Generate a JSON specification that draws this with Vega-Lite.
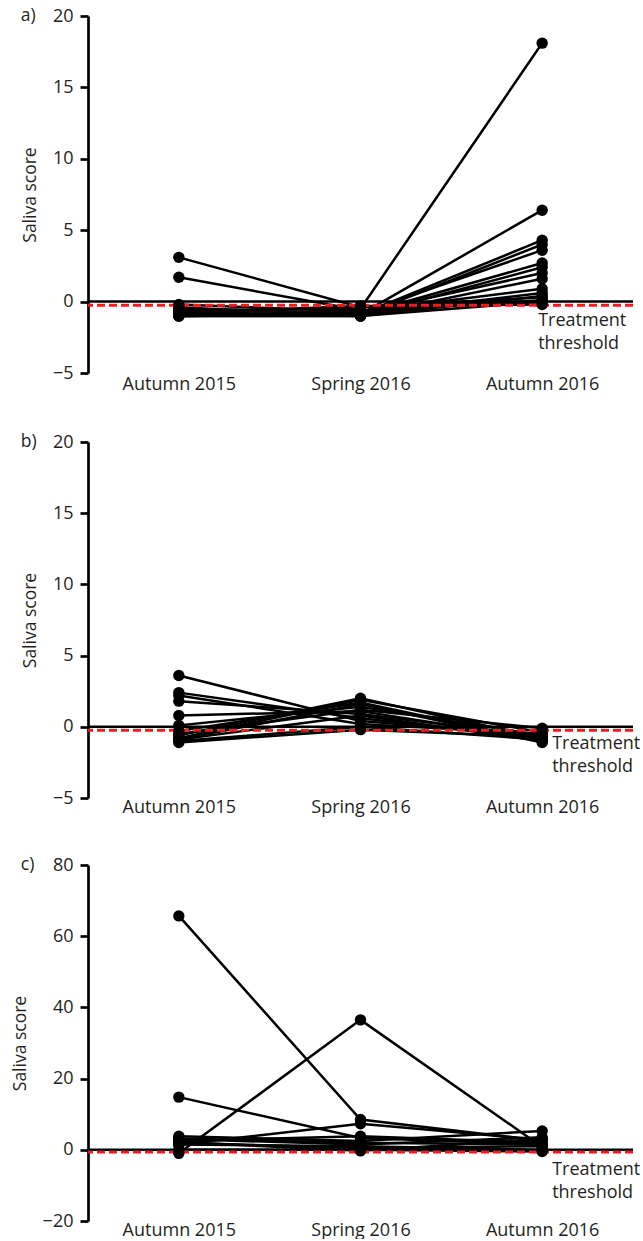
{
  "$schema": "https://vega.github.io/schema/vega-lite/v6.json",
  "background": "white",
  "padding": {"left": 11, "top": 7, "right": 0, "bottom": 0},
  "spacing": 40,
  "config": {
    "font": "Open Sans",
    "view": {"stroke": null},
    "axisY": {
      "domainColor": "black", "domainWidth": 2.7, "tickColor": "black", "tickWidth": 2.7, "tickSize": 8,
      "labelFontSize": 18, "labelColor": "#231f20", "labelPadding": 7, "grid": false,
      "titleFontSize": 17.5, "titleFontWeight": "normal", "titleColor": "#231f20", "titlePadding": 13
    },
    "axisX": {
      "domain": false, "ticks": false, "labelFontSize": 18, "labelColor": "#231f20", "labelPadding": 0, "labelAngle": 0, "title": null
    }
  },
  "datasets": {
    "a": [
      {"subject": 1, "season": "Autumn 2015", "score": -0.6}, {"subject": 1, "season": "Spring 2016", "score": -0.5}, {"subject": 1, "season": "Autumn 2016", "score": 18.1},
      {"subject": 2, "season": "Autumn 2015", "score": 3.1}, {"subject": 2, "season": "Spring 2016", "score": -0.4}, {"subject": 2, "season": "Autumn 2016", "score": 0.3},
      {"subject": 3, "season": "Autumn 2015", "score": 1.7}, {"subject": 3, "season": "Spring 2016", "score": -0.6}, {"subject": 3, "season": "Autumn 2016", "score": 0.1},
      {"subject": 4, "season": "Autumn 2015", "score": -0.9}, {"subject": 4, "season": "Spring 2016", "score": -0.9}, {"subject": 4, "season": "Autumn 2016", "score": 6.4},
      {"subject": 5, "season": "Autumn 2015", "score": -1.0}, {"subject": 5, "season": "Spring 2016", "score": -0.9}, {"subject": 5, "season": "Autumn 2016", "score": 4.3},
      {"subject": 6, "season": "Autumn 2015", "score": -0.8}, {"subject": 6, "season": "Spring 2016", "score": -1.0}, {"subject": 6, "season": "Autumn 2016", "score": 4.0},
      {"subject": 7, "season": "Autumn 2015", "score": -0.9}, {"subject": 7, "season": "Spring 2016", "score": -0.8}, {"subject": 7, "season": "Autumn 2016", "score": 3.6},
      {"subject": 8, "season": "Autumn 2015", "score": -1.0}, {"subject": 8, "season": "Spring 2016", "score": -0.9}, {"subject": 8, "season": "Autumn 2016", "score": 2.7},
      {"subject": 9, "season": "Autumn 2015", "score": -0.7}, {"subject": 9, "season": "Spring 2016", "score": -1.0}, {"subject": 9, "season": "Autumn 2016", "score": 2.4},
      {"subject": 10, "season": "Autumn 2015", "score": -0.5}, {"subject": 10, "season": "Spring 2016", "score": -0.8}, {"subject": 10, "season": "Autumn 2016", "score": 2.0},
      {"subject": 11, "season": "Autumn 2015", "score": -1.0}, {"subject": 11, "season": "Spring 2016", "score": -1.0}, {"subject": 11, "season": "Autumn 2016", "score": 1.6},
      {"subject": 12, "season": "Autumn 2015", "score": -0.2}, {"subject": 12, "season": "Spring 2016", "score": -0.7}, {"subject": 12, "season": "Autumn 2016", "score": 0.9},
      {"subject": 13, "season": "Autumn 2015", "score": -0.9}, {"subject": 13, "season": "Spring 2016", "score": -0.9}, {"subject": 13, "season": "Autumn 2016", "score": 0.6},
      {"subject": 14, "season": "Autumn 2015", "score": -0.4}, {"subject": 14, "season": "Spring 2016", "score": -1.0}, {"subject": 14, "season": "Autumn 2016", "score": 0.0},
      {"subject": 15, "season": "Autumn 2015", "score": -0.8}, {"subject": 15, "season": "Spring 2016", "score": -0.3}, {"subject": 15, "season": "Autumn 2016", "score": -0.2},
      {"subject": 16, "season": "Autumn 2015", "score": -1.0}, {"subject": 16, "season": "Spring 2016", "score": -1.0}, {"subject": 16, "season": "Autumn 2016", "score": 0.4}
    ],
    "b": [
      {"subject": 1, "season": "Autumn 2015", "score": 3.6}, {"subject": 1, "season": "Spring 2016", "score": 0.4}, {"subject": 1, "season": "Autumn 2016", "score": -0.6},
      {"subject": 2, "season": "Autumn 2015", "score": 2.4}, {"subject": 2, "season": "Spring 2016", "score": 0.6}, {"subject": 2, "season": "Autumn 2016", "score": -0.8},
      {"subject": 3, "season": "Autumn 2015", "score": 2.2}, {"subject": 3, "season": "Spring 2016", "score": 0.2}, {"subject": 3, "season": "Autumn 2016", "score": -0.5},
      {"subject": 4, "season": "Autumn 2015", "score": 1.8}, {"subject": 4, "season": "Spring 2016", "score": 0.9}, {"subject": 4, "season": "Autumn 2016", "score": -0.7},
      {"subject": 5, "season": "Autumn 2015", "score": 0.8}, {"subject": 5, "season": "Spring 2016", "score": 1.1}, {"subject": 5, "season": "Autumn 2016", "score": -0.9},
      {"subject": 6, "season": "Autumn 2015", "score": 0.1}, {"subject": 6, "season": "Spring 2016", "score": 1.4}, {"subject": 6, "season": "Autumn 2016", "score": -0.6},
      {"subject": 7, "season": "Autumn 2015", "score": -0.3}, {"subject": 7, "season": "Spring 2016", "score": 1.7}, {"subject": 7, "season": "Autumn 2016", "score": -1.0},
      {"subject": 8, "season": "Autumn 2015", "score": -0.6}, {"subject": 8, "season": "Spring 2016", "score": 2.0}, {"subject": 8, "season": "Autumn 2016", "score": -0.8},
      {"subject": 9, "season": "Autumn 2015", "score": -0.8}, {"subject": 9, "season": "Spring 2016", "score": 1.9}, {"subject": 9, "season": "Autumn 2016", "score": -0.4},
      {"subject": 10, "season": "Autumn 2015", "score": -0.9}, {"subject": 10, "season": "Spring 2016", "score": 1.6}, {"subject": 10, "season": "Autumn 2016", "score": -1.1},
      {"subject": 11, "season": "Autumn 2015", "score": -1.0}, {"subject": 11, "season": "Spring 2016", "score": 0.0}, {"subject": 11, "season": "Autumn 2016", "score": -0.9},
      {"subject": 12, "season": "Autumn 2015", "score": -1.1}, {"subject": 12, "season": "Spring 2016", "score": -0.2}, {"subject": 12, "season": "Autumn 2016", "score": -0.7},
      {"subject": 13, "season": "Autumn 2015", "score": -0.5}, {"subject": 13, "season": "Spring 2016", "score": 1.2}, {"subject": 13, "season": "Autumn 2016", "score": -0.1},
      {"subject": 14, "season": "Autumn 2015", "score": -0.9}, {"subject": 14, "season": "Spring 2016", "score": 0.8}, {"subject": 14, "season": "Autumn 2016", "score": -1.0}
    ],
    "c": [
      {"subject": 1, "season": "Autumn 2015", "score": 65.7}, {"subject": 1, "season": "Spring 2016", "score": 8.5}, {"subject": 1, "season": "Autumn 2016", "score": 2.5},
      {"subject": 2, "season": "Autumn 2015", "score": 14.8}, {"subject": 2, "season": "Spring 2016", "score": 3.3}, {"subject": 2, "season": "Autumn 2016", "score": 1.5},
      {"subject": 3, "season": "Autumn 2015", "score": -1.0}, {"subject": 3, "season": "Spring 2016", "score": 36.5}, {"subject": 3, "season": "Autumn 2016", "score": 0.8},
      {"subject": 4, "season": "Autumn 2015", "score": 1.5}, {"subject": 4, "season": "Spring 2016", "score": 7.3}, {"subject": 4, "season": "Autumn 2016", "score": 2.8},
      {"subject": 5, "season": "Autumn 2015", "score": 3.8}, {"subject": 5, "season": "Spring 2016", "score": 2.5}, {"subject": 5, "season": "Autumn 2016", "score": 5.3},
      {"subject": 6, "season": "Autumn 2015", "score": 3.0}, {"subject": 6, "season": "Spring 2016", "score": 1.5}, {"subject": 6, "season": "Autumn 2016", "score": 3.5},
      {"subject": 7, "season": "Autumn 2015", "score": 2.5}, {"subject": 7, "season": "Spring 2016", "score": 3.8}, {"subject": 7, "season": "Autumn 2016", "score": 2.0},
      {"subject": 8, "season": "Autumn 2015", "score": 2.0}, {"subject": 8, "season": "Spring 2016", "score": 0.5}, {"subject": 8, "season": "Autumn 2016", "score": 1.0},
      {"subject": 9, "season": "Autumn 2015", "score": 1.5}, {"subject": 9, "season": "Spring 2016", "score": 1.0}, {"subject": 9, "season": "Autumn 2016", "score": 0.0},
      {"subject": 10, "season": "Autumn 2015", "score": 0.0}, {"subject": 10, "season": "Spring 2016", "score": 0.0}, {"subject": 10, "season": "Autumn 2016", "score": -0.5},
      {"subject": 11, "season": "Autumn 2015", "score": 3.2}, {"subject": 11, "season": "Spring 2016", "score": 2.0}, {"subject": 11, "season": "Autumn 2016", "score": 1.5},
      {"subject": 12, "season": "Autumn 2015", "score": 2.2}, {"subject": 12, "season": "Spring 2016", "score": -0.3}, {"subject": 12, "season": "Autumn 2016", "score": 3.0}
    ]
  },
  "vconcat": [
    {
      "width": 545, "height": 357,
      "data": {"name": "a"},
      "layer": [
        {"data": {"values": [{}]}, "mark": {"type": "rule", "color": "black", "strokeWidth": 2.5},
         "encoding": {"y": {"datum": 0, "type": "quantitative", "scale": {"domain": [-5, 20], "nice": false}, "axis": {"values": [-5, 0, 5, 10, 15, 20], "title": "Saliva score", "labelExpr": "replace(datum.label, '-', '−')"}}}},
        {"mark": {"type": "line", "color": "black", "strokeWidth": 2.5},
         "encoding": {
           "x": {"field": "season", "type": "ordinal", "scale": {"type": "point", "padding": 0.5, "domain": ["Autumn 2015", "Spring 2016", "Autumn 2016"]}, "axis": {"labelPadding": 2}},
           "y": {"field": "score", "type": "quantitative"},
           "detail": {"field": "subject"}}},
        {"data": {"values": [{}]}, "mark": {"type": "rule", "color": "#ee1c25", "strokeWidth": 3, "strokeDash": [8, 4]},
         "encoding": {"y": {"datum": -0.25, "type": "quantitative"}}},
        {"mark": {"type": "circle", "color": "black", "opacity": 1, "size": 130},
         "encoding": {"x": {"field": "season", "type": "ordinal"}, "y": {"field": "score", "type": "quantitative"}}},
        {"data": {"values": [{}]}, "mark": {"type": "text", "fontSize": 18, "color": "#231f20", "align": "left", "baseline": "top", "dx": -4, "dy": 10, "lineHeight": 23.5},
         "encoding": {"x": {"datum": "Autumn 2016", "type": "ordinal"}, "y": {"datum": 0, "type": "quantitative"}, "text": {"value": ["Treatment", "threshold"]}}},
        {"data": {"values": [{}]}, "mark": {"type": "text", "fontSize": 17.5, "color": "#231f20", "align": "left", "baseline": "middle", "dx": -158},
         "encoding": {"x": {"datum": "Autumn 2015", "type": "ordinal"}, "y": {"datum": 20, "type": "quantitative"}, "text": {"value": "a)"}}}
      ]
    },
    {
      "width": 545, "height": 356,
      "data": {"name": "b"},
      "layer": [
        {"data": {"values": [{}]}, "mark": {"type": "rule", "color": "black", "strokeWidth": 2.5},
         "encoding": {"y": {"datum": 0, "type": "quantitative", "scale": {"domain": [-5, 20], "nice": false}, "axis": {"values": [-5, 0, 5, 10, 15, 20], "title": "Saliva score", "labelExpr": "replace(datum.label, '-', '−')"}}}},
        {"mark": {"type": "line", "color": "black", "strokeWidth": 2.5},
         "encoding": {
           "x": {"field": "season", "type": "ordinal", "scale": {"type": "point", "padding": 0.5, "domain": ["Autumn 2015", "Spring 2016", "Autumn 2016"]}},
           "y": {"field": "score", "type": "quantitative"},
           "detail": {"field": "subject"}}},
        {"data": {"values": [{}]}, "mark": {"type": "rule", "color": "#ee1c25", "strokeWidth": 3, "strokeDash": [8, 4]},
         "encoding": {"y": {"datum": -0.25, "type": "quantitative"}}},
        {"mark": {"type": "circle", "color": "black", "opacity": 1, "size": 130},
         "encoding": {"x": {"field": "season", "type": "ordinal"}, "y": {"field": "score", "type": "quantitative"}}},
        {"data": {"values": [{}]}, "mark": {"type": "text", "fontSize": 18, "color": "#231f20", "align": "left", "baseline": "top", "dx": 10, "dy": 8, "lineHeight": 23.5},
         "encoding": {"x": {"datum": "Autumn 2016", "type": "ordinal"}, "y": {"datum": 0, "type": "quantitative"}, "text": {"value": ["Treatment", "threshold"]}}},
        {"data": {"values": [{}]}, "mark": {"type": "text", "fontSize": 17.5, "color": "#231f20", "align": "left", "baseline": "middle", "dx": -158},
         "encoding": {"x": {"datum": "Autumn 2015", "type": "ordinal"}, "y": {"datum": 20, "type": "quantitative"}, "text": {"value": "b)"}}}
      ]
    },
    {
      "width": 545, "height": 356,
      "data": {"name": "c"},
      "layer": [
        {"data": {"values": [{}]}, "mark": {"type": "rule", "color": "black", "strokeWidth": 2.5},
         "encoding": {"y": {"datum": 0, "type": "quantitative", "scale": {"domain": [-20, 80], "nice": false}, "axis": {"values": [-20, 0, 20, 40, 60, 80], "title": "Saliva score", "labelExpr": "replace(datum.label, '-', '−')"}}}},
        {"mark": {"type": "line", "color": "black", "strokeWidth": 2.5},
         "encoding": {
           "x": {"field": "season", "type": "ordinal", "scale": {"type": "point", "padding": 0.5, "domain": ["Autumn 2015", "Spring 2016", "Autumn 2016"]}},
           "y": {"field": "score", "type": "quantitative"},
           "detail": {"field": "subject"}}},
        {"data": {"values": [{}]}, "mark": {"type": "rule", "color": "#ee1c25", "strokeWidth": 3, "strokeDash": [8, 4]},
         "encoding": {"y": {"datum": -0.6, "type": "quantitative"}}},
        {"mark": {"type": "circle", "color": "black", "opacity": 1, "size": 130},
         "encoding": {"x": {"field": "season", "type": "ordinal"}, "y": {"field": "score", "type": "quantitative"}}},
        {"data": {"values": [{}]}, "mark": {"type": "text", "fontSize": 18, "color": "#231f20", "align": "left", "baseline": "top", "dx": 10, "dy": 11, "lineHeight": 23.5},
         "encoding": {"x": {"datum": "Autumn 2016", "type": "ordinal"}, "y": {"datum": 0, "type": "quantitative"}, "text": {"value": ["Treatment", "threshold"]}}},
        {"data": {"values": [{}]}, "mark": {"type": "text", "fontSize": 17.5, "color": "#231f20", "align": "left", "baseline": "middle", "dx": -158},
         "encoding": {"x": {"datum": "Autumn 2015", "type": "ordinal"}, "y": {"datum": 80, "type": "quantitative"}, "text": {"value": "c)"}}}
      ]
    }
  ]
}
